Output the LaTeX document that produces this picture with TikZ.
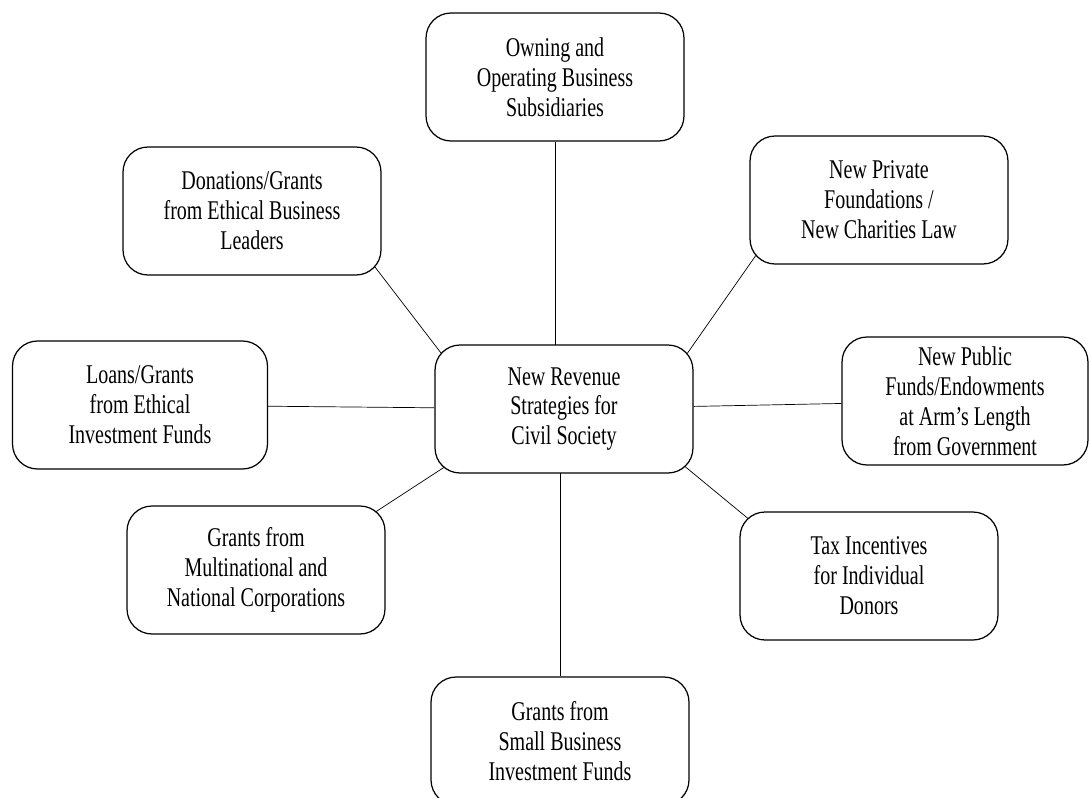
\documentclass[tikz,border=0pt]{standalone}
\usepackage{fontspec}
\setmainfont[FakeStretch=0.74]{Liberation Serif}
\usetikzlibrary{backgrounds}

\begin{document}
\begin{tikzpicture}[
    x=0.02cm, y=-0.02cm,
    line width=0.7pt,
    font=\fontsize{15.4}{17}\selectfont
]

    % Global styles for the strategy boxes and the spokes
    \tikzset{
        ideabox/.style={
            draw, rounded corners=0.5cm, fill=white, align=center,
            minimum width=5.16cm, minimum height=2.56cm, inner sep=2pt
        },
        spoke/.style={shorten <=-12pt, shorten >=-12pt}
    }

    \useasboundingbox (0,0) rectangle (1089,798);

    % Hub
    \node[ideabox] (hub) at (564,409) {New Revenue\\Strategies for\\Civil Society};

    % Spokes, clockwise from the top
    \node[ideabox] (own) at (555,77) {Owning and\\Operating Business\\Subsidiaries};
    \node[ideabox] (priv) at (879,200) {New Private\\Foundations /\\New Charities Law};
    \node[ideabox, minimum width=4.92cm] (pub) at (965,401) {New Public\\Funds/Endowments\\at Arm's Length\\from Government};
    \node[ideabox] (tax) at (869,576) {Tax Incentives\\for Individual\\Donors};
    \node[ideabox] (small) at (560,741) {Grants from\\Small Business\\Investment Funds};
    \node[ideabox] (multi) at (256,570) {Grants from\\Multinational and\\National Corporations};
    \node[ideabox, minimum width=5.1cm] (loans) at (140,405) {Loans/Grants\\from Ethical\\Investment Funds};
    \node[ideabox] (don) at (252,211) {Donations/Grants\\from Ethical Business\\Leaders};

    % Connectors (behind the boxes)
    \begin{scope}[on background layer]
        \draw (own) -- (own |- hub);
        \draw (small) -- (small |- hub);
        \draw (loans) -- (hub);
        \draw (pub) -- (hub);
        \draw[spoke] (don.south east) -- (hub.north west);
        \draw[spoke] (priv.south west) -- (hub.north east);
        \draw[spoke] (multi.north east) -- (hub.south west);
        \draw[spoke] (tax.north west) -- (hub.south east);
    \end{scope}

\end{tikzpicture}
\end{document}
